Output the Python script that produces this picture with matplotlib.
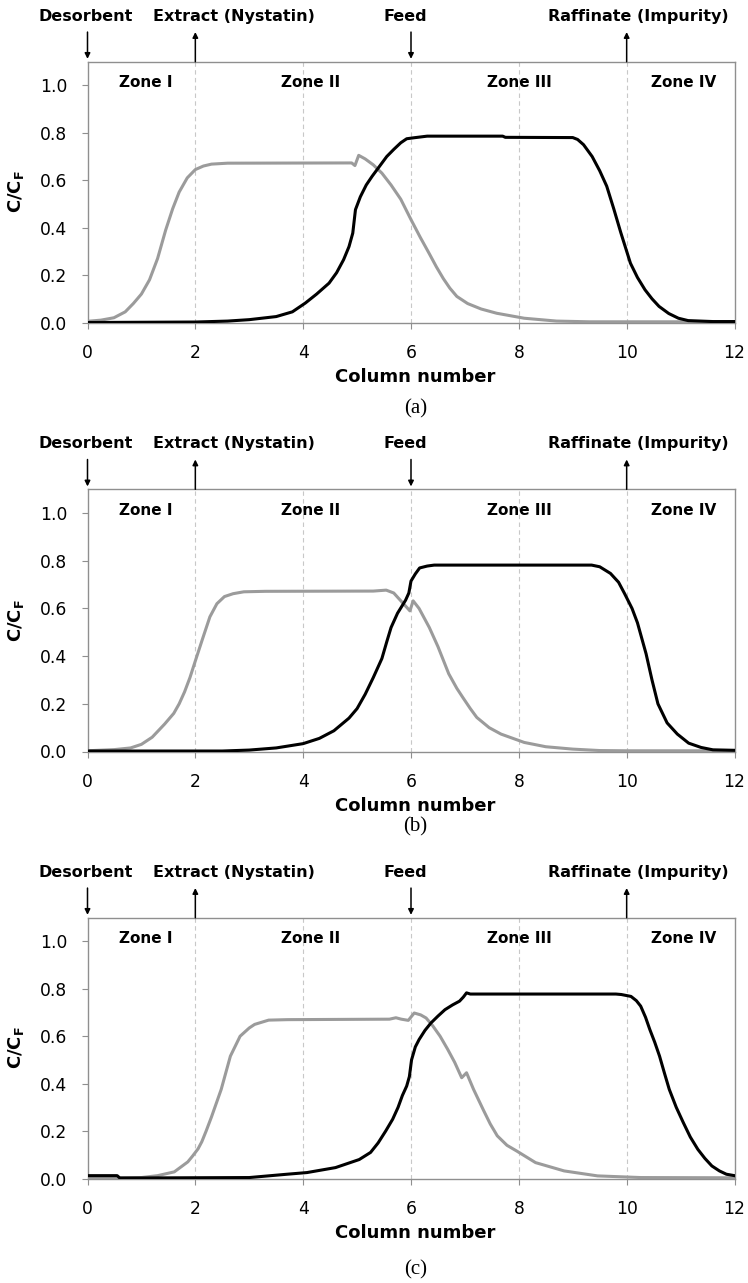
import matplotlib.pyplot as plt
from matplotlib.ticker import FormatStrFormatter

plt.rcParams['font.family'] = 'DejaVu Sans'
plt.rcParams['mathtext.fontset'] = 'dejavusans'

# SMB column profiles: nystatin (grey) and impurity (black), C/CF vs column number
nys_a_x = [0, 0.25, 0.49, 0.7, 0.85, 1.0, 1.15, 1.3, 1.45, 1.58, 1.7, 1.85, 2.0, 2.15, 2.3, 2.6,
           4.9, 4.96, 5.03, 5.15, 5.3, 5.46, 5.63, 5.81, 6.0, 6.17, 6.34, 6.47, 6.6, 6.72, 6.85,
           7.05, 7.3, 7.59, 8.1, 8.7, 9.3, 12.0]
nys_a_y = [0.005, 0.01, 0.02, 0.045, 0.08, 0.12, 0.18, 0.27, 0.39, 0.48, 0.55, 0.61, 0.645, 0.66,
           0.668, 0.672, 0.673, 0.662, 0.705, 0.69, 0.665, 0.63, 0.58, 0.52, 0.434, 0.36, 0.29,
           0.235, 0.185, 0.145, 0.11, 0.08, 0.057, 0.039, 0.018, 0.006, 0.003, 0.003]
imp_a_x = [0, 2.0, 2.6, 3.0, 3.5, 3.8, 4.04, 4.25, 4.48, 4.62, 4.75, 4.85, 4.92, 4.97, 5.06, 5.17,
           5.28, 5.42, 5.55, 5.68, 5.81, 5.92, 6.05, 6.3, 7.7, 7.75, 9.0, 9.09, 9.2, 9.36, 9.5,
           9.63, 9.76, 9.89, 10.07, 10.2, 10.34, 10.47, 10.6, 10.78, 10.96, 11.14, 11.6, 12.0]
imp_a_y = [0.0, 0.002, 0.006, 0.012, 0.025, 0.045, 0.082, 0.12, 0.166, 0.21, 0.265, 0.32, 0.377,
           0.476, 0.53, 0.58, 0.617, 0.66, 0.7, 0.73, 0.758, 0.775, 0.779, 0.786, 0.786, 0.781,
           0.78, 0.772, 0.75, 0.7, 0.64, 0.575, 0.48, 0.38, 0.25, 0.19, 0.138, 0.1, 0.068, 0.038,
           0.018, 0.008, 0.004, 0.004]

nys_b_x = [0, 0.5, 0.8, 1.0, 1.2, 1.43, 1.6, 1.7, 1.8, 1.9, 2.0, 2.13, 2.27, 2.4, 2.54, 2.7, 2.9,
           3.3, 5.3, 5.54, 5.68, 5.8, 5.92, 5.98, 6.04, 6.15, 6.34, 6.5, 6.7, 6.85, 6.96, 7.1,
           7.22, 7.45, 7.67, 8.1, 8.5, 9.0, 9.5, 10.0, 12.0]
nys_b_y = [0.003, 0.008, 0.015, 0.03, 0.06, 0.115, 0.16, 0.2, 0.25, 0.31, 0.38, 0.47, 0.565, 0.62,
           0.65, 0.662, 0.67, 0.672, 0.673, 0.677, 0.665, 0.635, 0.605, 0.59, 0.632, 0.6, 0.52,
           0.44, 0.326, 0.265, 0.227, 0.18, 0.143, 0.1, 0.073, 0.038, 0.02, 0.01, 0.004, 0.003,
           0.003]
imp_b_x = [0, 2.5, 3.0, 3.5, 4.0, 4.3, 4.57, 4.85, 5.0, 5.15, 5.3, 5.46, 5.55, 5.63, 5.75, 5.9,
           5.96, 6.0, 6.08, 6.16, 6.3, 6.43, 9.35, 9.5, 9.7, 9.85, 9.96, 10.1, 10.2, 10.36, 10.47,
           10.58, 10.75, 10.94, 11.15, 11.38, 11.6, 12.0]
imp_b_y = [0.002, 0.002, 0.006, 0.015, 0.033, 0.055, 0.087, 0.14, 0.18, 0.24, 0.31, 0.39, 0.46,
           0.52, 0.58, 0.635, 0.665, 0.715, 0.745, 0.77, 0.778, 0.782, 0.782, 0.775, 0.747, 0.71,
           0.663, 0.6, 0.54, 0.41, 0.3, 0.2, 0.12, 0.073, 0.035, 0.017, 0.007, 0.005]

nys_c_x = [0, 1.0, 1.3, 1.61, 1.86, 1.95, 2.05, 2.12, 2.2, 2.3, 2.48, 2.65, 2.83, 3.0, 3.1, 3.36,
           3.71, 5.6, 5.72, 5.82, 5.95, 6.06, 6.18, 6.28, 6.4, 6.54, 6.68, 6.81, 6.94, 7.03, 7.16,
           7.34, 7.47, 7.6, 7.78, 7.96, 8.31, 8.84, 9.46, 10.26, 12.0]
nys_c_y = [0.002, 0.004, 0.012, 0.028, 0.07, 0.095, 0.125, 0.155, 0.2, 0.26, 0.376, 0.516, 0.6,
           0.635, 0.65, 0.668, 0.67, 0.672, 0.678, 0.672, 0.667, 0.698, 0.69, 0.677, 0.645, 0.6,
           0.545, 0.49, 0.425, 0.446, 0.376, 0.29, 0.23, 0.18, 0.14, 0.116, 0.067, 0.032, 0.011,
           0.004, 0.003]
imp_c_x = [0, 0.55, 0.6, 3.0, 3.7, 4.07, 4.6, 5.04, 5.25, 5.39, 5.53, 5.66, 5.76, 5.84, 5.92,
           5.97, 6.01, 6.08, 6.15, 6.26, 6.37, 6.5, 6.63, 6.77, 6.9, 6.97, 7.03, 7.1, 9.8, 9.9,
           10.08, 10.18, 10.26, 10.35, 10.43, 10.52, 10.61, 10.7, 10.79, 10.92, 11.05, 11.18,
           11.32, 11.45, 11.58, 11.72, 11.85, 12.0]
imp_c_y = [0.012, 0.012, 0.002, 0.004, 0.018, 0.025, 0.046, 0.08, 0.11, 0.15, 0.2, 0.25, 0.3,
           0.35, 0.39, 0.43, 0.5, 0.555, 0.586, 0.625, 0.656, 0.685, 0.712, 0.732, 0.748, 0.765,
           0.783, 0.778, 0.778, 0.776, 0.768, 0.75, 0.727, 0.68, 0.628, 0.575, 0.516, 0.445,
           0.376, 0.3, 0.236, 0.175, 0.123, 0.085, 0.053, 0.032, 0.018, 0.012]

# port positions (column boundary) and flow direction
ports = ['Desorbent', 'Extract (Nystatin)', 'Feed', 'Raffinate (Impurity)']
port_col = [0, 2, 6, 10]
port_in = [True, False, True, False]
port_label_x = [-0.04, 2.71, 5.89, 10.22]
zones = ['Zone I', 'Zone II', 'Zone III', 'Zone IV']
zone_x = [1.08, 4.13, 8.01, 11.05]

W, H = 748, 1283
fig = plt.figure(figsize=(W / 100, H / 100), dpi=100)

panels = [
    ('(a)', nys_a_x, nys_a_y, imp_a_x, imp_a_y, 61.7, 322.5, 86),
    ('(b)', nys_b_x, nys_b_y, imp_b_x, imp_b_y, 489.3, 751.5, 75),
    ('(c)', nys_c_x, nys_c_y, imp_c_x, imp_c_y, 917.7, 1178.5, 91),
]
left_px, right_px = 87.5, 734.5
frame = '#8f8f8f'

for tag, nx, ny, ix, iy, top_px, bot_px, tag_off in panels:
    ax = fig.add_axes([left_px / W, 1 - bot_px / H, (right_px - left_px) / W, (bot_px - top_px) / H])
    for xv in [2, 4, 6, 8, 10]:
        ax.axvline(xv, color='#c8c8c8', lw=0.8, ls=(0, (4, 3)), zorder=1)
    ax.plot(nx, ny, color='#9b9b9b', lw=2.2, solid_joinstyle='round', zorder=3)
    ax.plot(ix, iy, color='black', lw=2.2, solid_joinstyle='round', zorder=4)

    ax.set_xlim(0, 12)
    ax.set_ylim(0, 1.1)
    ax.set_xticks(range(0, 13, 2))
    ax.set_yticks([0, 0.2, 0.4, 0.6, 0.8, 1.0])
    ax.yaxis.set_major_formatter(FormatStrFormatter('%.1f'))
    for s in ax.spines.values():
        s.set_color(frame)
        s.set_linewidth(1.0)
    ax.tick_params(direction='out', length=4.5, width=0.8, color=frame, labelsize=12.3)
    ax.tick_params(axis='x', pad=11)
    ax.tick_params(axis='y', pad=10)

    ax.text(-0.11, 0.5, r'C/C$_\mathbf{F}$', transform=ax.transAxes, rotation=90,
            ha='center', va='center', fontsize=13, fontweight='bold')
    ax.annotate('Column number', xy=(0.507, 0), xycoords='axes fraction',
                xytext=(0, -55 / 1.389), textcoords='offset points',
                ha='center', va='center', fontsize=13, fontweight='bold')
    ax.annotate(tag, xy=(0.507, 0), xycoords='axes fraction',
                xytext=(0, -tag_off / 1.389), textcoords='offset points',
                ha='center', va='center', fontsize=15, family='Liberation Serif')

    for zx, zname in zip(zone_x, zones):
        ax.text(zx, 1.012, zname, ha='center', va='center', fontsize=11, fontweight='bold')

    for name, px, inflow, lx in zip(ports, port_col, port_in, port_label_x):
        ax.text(lx, 1.292, name, ha='center', va='center', fontsize=11.5,
                fontweight='bold', clip_on=False)
        lo, hi = 1.1, 1.225
        head, tail = (lo + 0.012, hi) if inflow else (hi, lo)
        ax.annotate('', xy=(px, head), xytext=(px, tail),
                    arrowprops=dict(arrowstyle='-|>', color='black', lw=1.1,
                                    mutation_scale=8, shrinkA=0, shrinkB=0),
                    annotation_clip=False)

fig.savefig('out.png', dpi=100)
